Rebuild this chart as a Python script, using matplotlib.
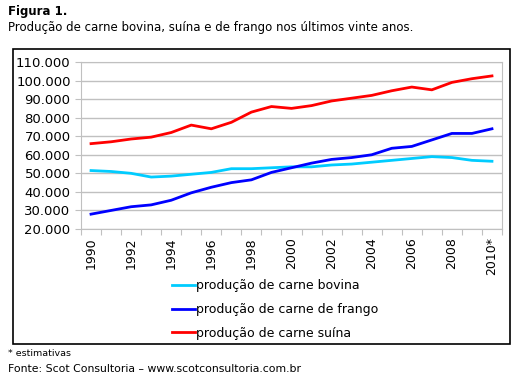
import matplotlib
matplotlib.use("Agg")
import matplotlib.pyplot as plt
from matplotlib.patches import Rectangle
from matplotlib.lines import Line2D
import numpy as np

years = ["1990", "1991", "1992", "1993", "1994", "1995", "1996", "1997", "1998", "1999",
         "2000", "2001", "2002", "2003", "2004", "2005", "2006", "2007", "2008", "2009", "2010*"]
bovina = [51500, 51000, 50000, 48000, 48500, 49500, 50500, 52500, 52500, 53000,
          53500, 53500, 54500, 55000, 56000, 57000, 58000, 59000, 58500, 57000, 56500]
frango = [28000, 30000, 32000, 33000, 35500, 39500, 42500, 45000, 46500, 50500,
          53000, 55500, 57500, 58500, 60000, 63500, 64500, 68000, 71500, 71500, 74000]
suina = [66000, 67000, 68500, 69500, 72000, 76000, 74000, 77500, 83000, 86000,
         85000, 86500, 89000, 90500, 92000, 94500, 96500, 95000, 99000, 101000, 102500]
nomes = ["produção de carne bovina", "produção de carne de frango", "produção de carne suína"]
cores = ["#00ccff", "#0000ff", "#ff0000"]

W, H = 523, 380
fig = plt.figure(figsize=(W / 100, H / 100), dpi=100)
plt.rcParams['font.family'] = ['DejaVu Sans']

def fx(px):
    return px / W

def fy(py):
    return 1 - py / H

# outer box
fig.patches.append(Rectangle((fx(13), fy(344)), fx(510) - fx(13), fy(49) - fy(344),
                             transform=fig.transFigure, fill=False, edgecolor="black", lw=1.2))

fig.text(fx(8), fy(12), "Figura 1.", fontsize=8.5, fontweight="bold", va="center")
fig.text(fx(8), fy(28), "Produção de carne bovina, suína e de frango nos últimos vinte anos.",
         fontsize=8.5, va="center")
fig.text(fx(8), fy(354), "* estimativas", fontsize=6.8, va="center")
fig.text(fx(8), fy(369), "Fonte: Scot Consultoria – www.scotconsultoria.com.br", fontsize=7.8, va="center")

ax = fig.add_axes([fx(81), fy(229), fx(502) - fx(81), fy(62) - fy(229)])
x = np.arange(len(years))
for serie, cor in zip([bovina, frango, suina], cores):
    ax.plot(x, serie, color=cor, lw=2)

ax.set_xlim(-0.5, len(years) - 0.5)
ax.set_ylim(20000, 110000)
ax.set_yticks(np.arange(20000, 110001, 10000))
ax.set_yticklabels([f"{v:,}".replace(",", ".") for v in range(20000, 110001, 10000)], fontsize=9.5)
ax.grid(axis="y", color="#c0c0c0", lw=1)
ax.set_axisbelow(True)
for s in ax.spines.values():
    s.set_color("#c0c0c0")

ax.set_xticks(np.arange(-0.5, len(years), 1.0))
ax.set_xticklabels([])
ax.tick_params(axis="both", colors="#c0c0c0", length=4, labelcolor="black")
ax.set_xticks(x[::2], minor=True)
ax.set_xticklabels(years[::2], minor=True, rotation=90, fontsize=9, va="top")
ax.tick_params(axis="x", which="minor", length=0, pad=6)

handles = [Line2D([], [], color=c, lw=2) for c in cores]
fig.legend(handles, nomes, loc="upper left", bbox_to_anchor=(fx(166), fy(273)),
           frameon=False, fontsize=9, handlelength=1.85, handletextpad=0.05,
           labelspacing=0.85, borderpad=0)

fig.savefig("out.png", dpi=100)
